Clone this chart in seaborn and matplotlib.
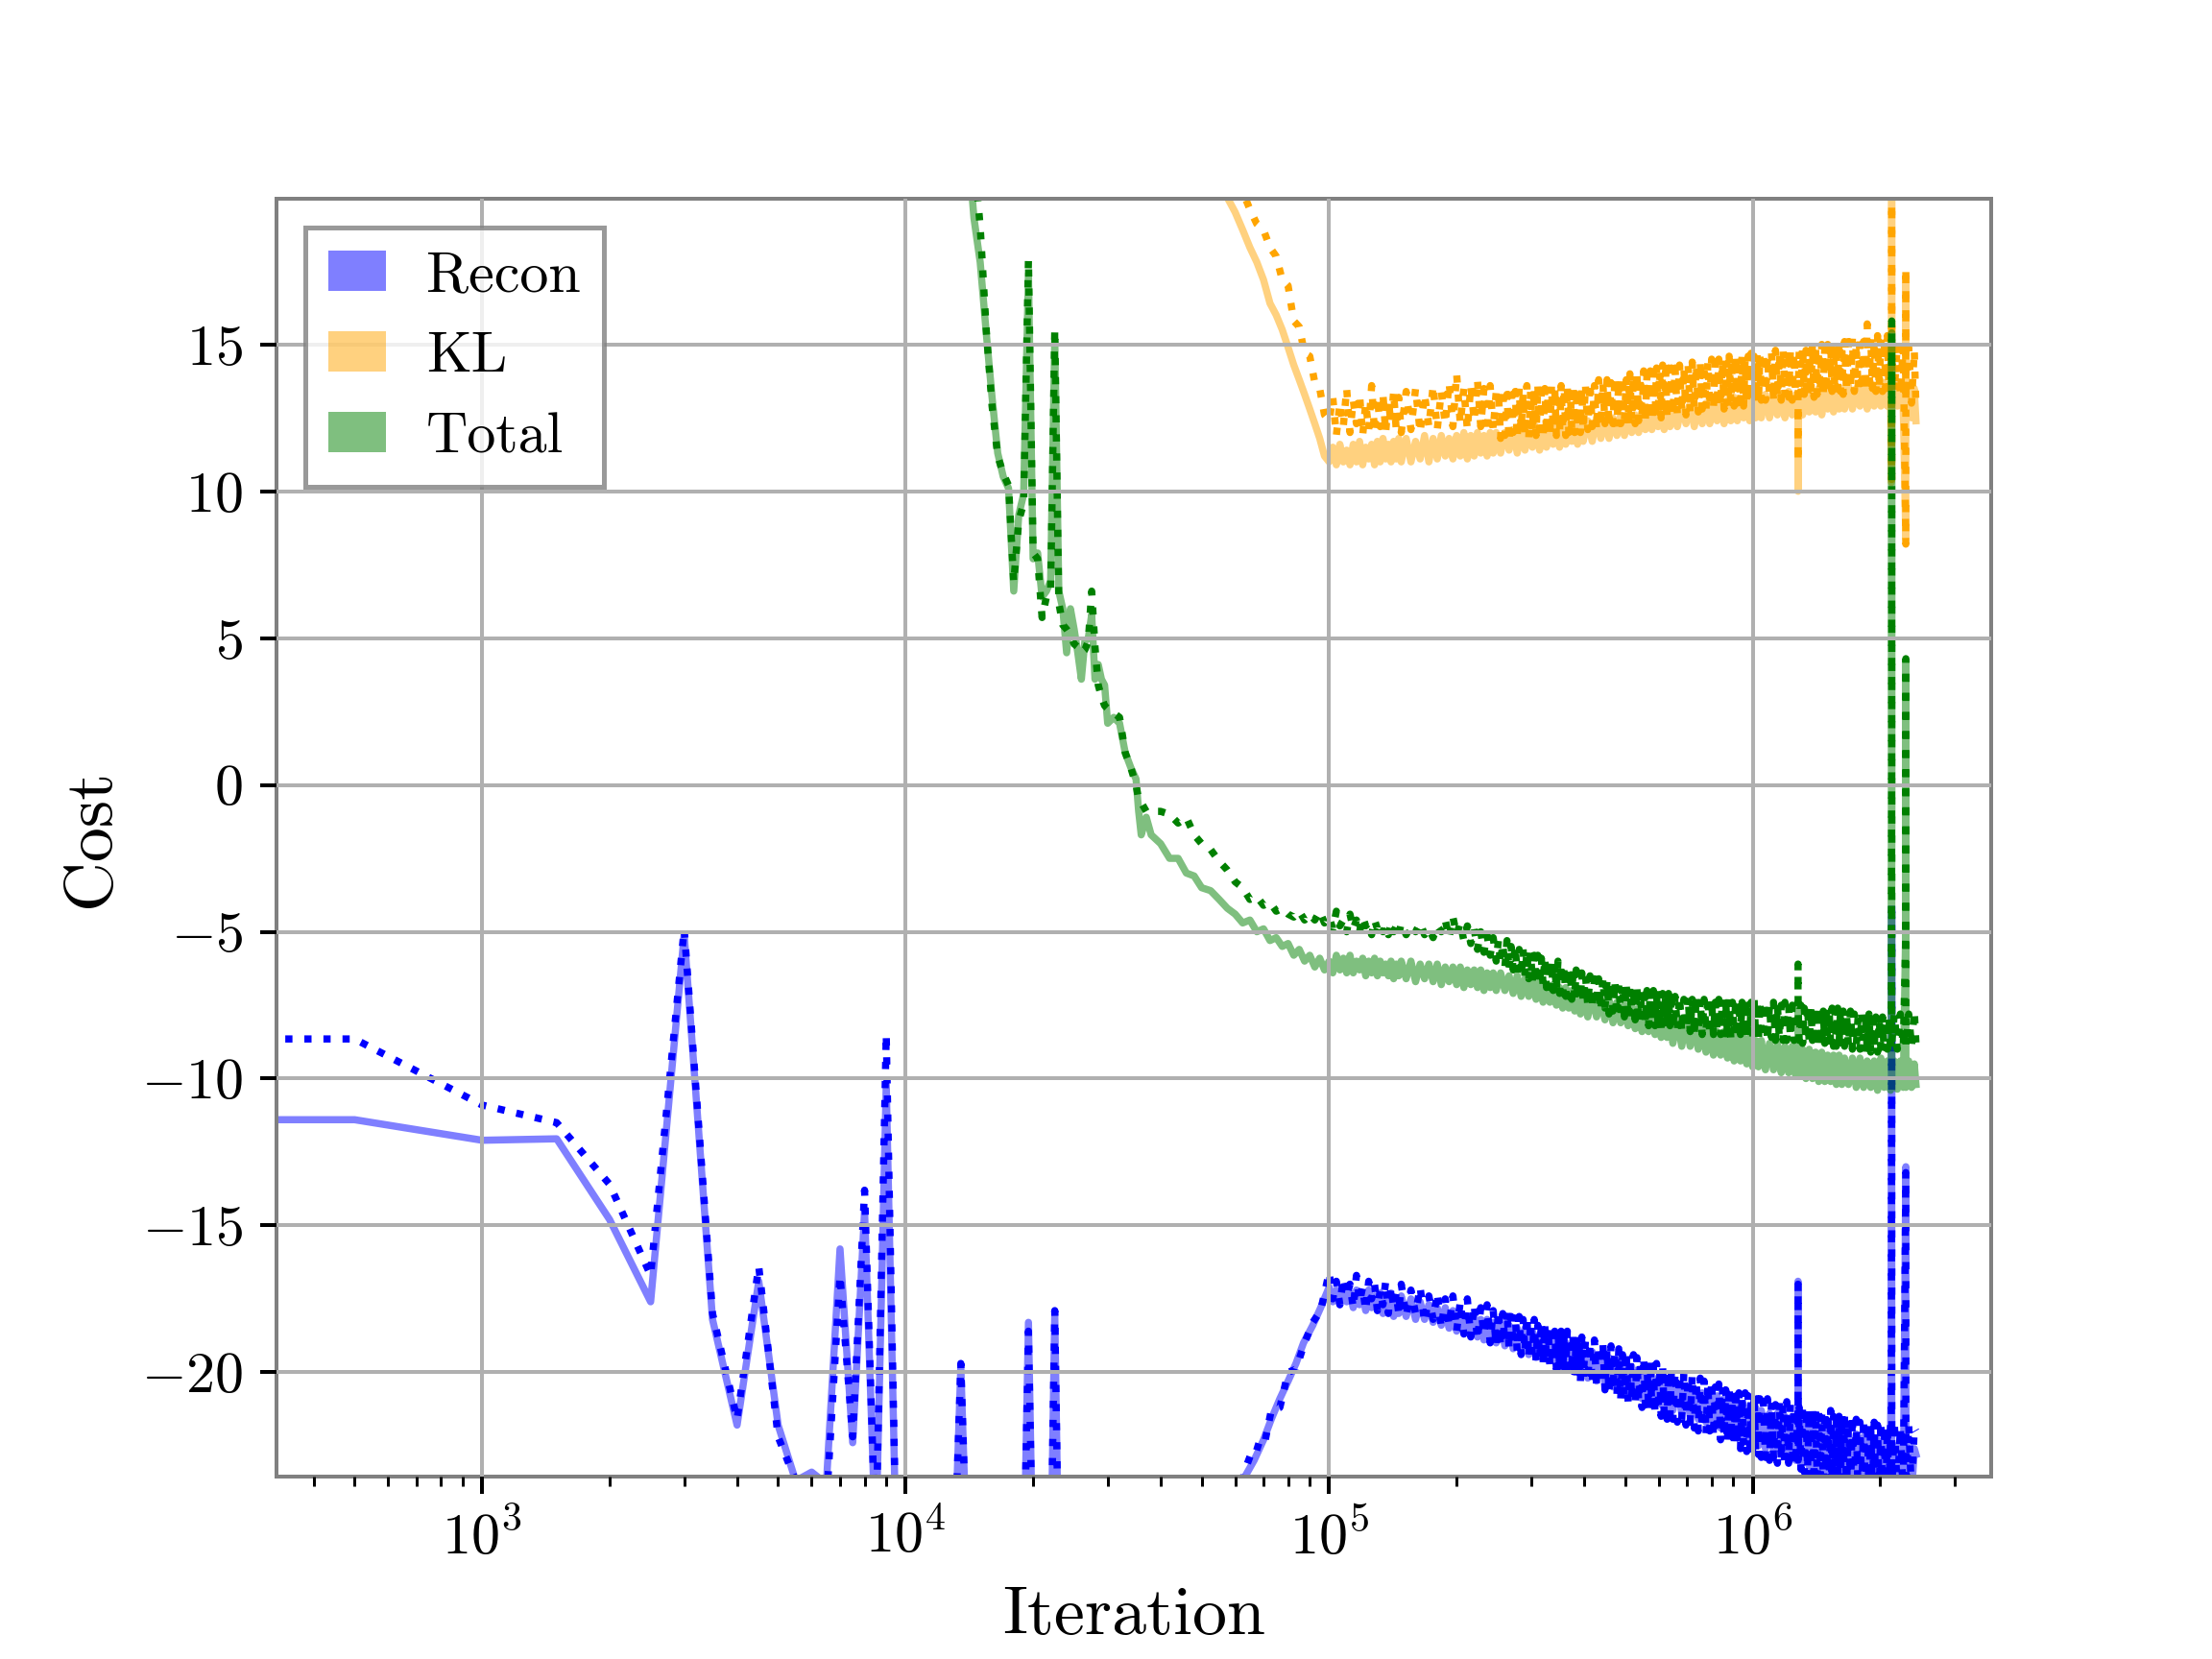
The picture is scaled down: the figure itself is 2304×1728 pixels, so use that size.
import matplotlib
matplotlib.use("Agg")
import matplotlib.pyplot as plt
import seaborn as sns
from matplotlib.patches import Patch

# ---------------- data ----------------
series_names = ["Recon", "KL", "Total"]
series_colors = ["blue", "orange", "green"]
y_ticks = [-20, -15, -10, -5, 0, 5, 10, 15]

# early iterations (recon only visible)
recon_iter_early = [0, 500, 1000, 1500, 2000, 2500, 3000, 3500, 4000, 4500,
                    5000, 5500, 6000, 6500, 7000, 7500, 8000, 8500, 9000, 9500,
                    10000, 13000, 13500, 14000, 19000, 19500, 20000, 22000, 22500, 23000,
                    60000, 63000, 66500, 70000, 73000, 76500, 80000, 83500, 87000, 91500,
                    95500]
recon_solid_early = [-11.4, -11.4, -12.1, -12.05, -14.8, -17.6, -5.1, -18.2, -21.8, -16.9,
                     -21.8, -23.7, -23.4, -23.8, -15.8, -22.4, -14.5, -26.0, -10.2, -26.0,
                     -27.0, -27.0, -19.8, -27.0, -27.0, -18.3, -27.0, -27.0, -18.0, -27.0,
                     -26.0, -23.6, -23.0, -22.3, -21.6, -20.9, -20.3, -19.7, -19.0, -18.4,
                     -17.8]
recon_dotted_early = [-8.65, -8.65, -10.9, -11.5, -13.6, -16.7, -4.9, -18.0, -21.6, -16.4,
                      -22.2, -23.7, -24.5, -24.5, -16.7, -22.2, -13.8, -26.0, -8.5, -26.0,
                      -27.0, -27.0, -19.7, -27.0, -27.0, -18.6, -27.0, -27.0, -17.9, -27.0,
                      -26.0, -23.4, -22.5, -22.6, -21.3, -21.2, -20.0, -19.9, -19.1, -18.3,
                      -17.9]

# total: mid iterations
total_iter_mid = [14000, 14500, 15000, 15500, 16000, 16500, 17000, 17500, 18000, 18500,
                  19000, 19500, 20000, 20500, 21000, 21500, 22000, 22500, 23000, 23500,
                  24000, 24500, 25000, 25500, 26000, 26500, 27000, 27500, 28000, 28500,
                  29000, 29500, 30000, 31000, 32000, 33000, 34000, 35000, 35500, 36000,
                  37000, 38000, 40000, 42000, 44000, 46000, 48000, 50000, 52500, 55000,
                  57500, 60000, 62500, 65000, 67500, 70000, 72500, 75000, 77500, 80000,
                  82500, 85000, 87500, 90000, 92500, 95000, 97500]
total_solid_mid = [22.0, 19.3, 17.8, 15.4, 13.2, 11.3, 10.5, 10.1, 6.6, 9.2,
                   9.9, 17.4, 7.7, 7.9, 6.4, 6.6, 6.95, 15.2, 6.6, 6.0,
                   4.5, 6.0, 5.3, 4.5, 3.6, 4.9, 5.0, 5.8, 3.6, 4.1,
                   3.6, 3.4, 2.1, 2.3, 2.1, 1.1, 0.6, 0.2, -0.9, -1.7,
                   -1.1, -1.7, -2.0, -2.5, -2.5, -3.0, -3.1, -3.5, -3.6, -3.9,
                   -4.2, -4.4, -4.7, -4.6, -5.0, -4.9, -5.3, -5.2, -5.5, -5.4,
                   -5.8, -5.6, -6.0, -5.8, -6.2, -5.9, -6.3]
total_dotted_mid = [24.0, 21.5, 19.0, 15.5, 12.9, 11.2, 10.6, 10.2, 6.9, 9.0,
                    9.6, 17.9, 7.9, 7.7, 5.7, 6.4, 6.6, 15.5, 6.2, 5.45,
                    5.3, 5.1, 4.8, 4.7, 4.5, 4.6, 4.9, 6.6, 4.7, 3.4,
                    3.0, 2.7, 2.6, 2.45, 2.3, 1.1, 0.6, 0.0, -0.5, -0.6,
                    -0.9, -0.9, -0.9, -1.0, -1.3, -1.1, -1.7, -2.0, -2.2, -2.6,
                    -2.9, -3.3, -3.5, -3.9, -3.8, -4.1, -4.0, -4.3, -4.2, -4.4,
                    -4.5, -4.3, -4.6, -4.4, -4.6, -4.3, -4.7]

# KL: mid iterations
kl_iter_mid = [55000, 57500, 60000, 62500, 65000, 67500, 70000, 72500, 75000, 77500,
               80000, 82500, 85000, 87500, 90000, 92500, 95000, 97500]
kl_solid_mid = [21.0, 20.0, 19.5, 18.9, 18.3, 17.8, 17.2, 16.4, 16.0, 15.5,
                14.9, 14.3, 13.8, 13.3, 12.8, 12.3, 11.8, 11.2]
kl_dotted_mid = [23.0, 22.0, 21.5, 20.2, 19.6, 19.1, 18.9, 18.3, 18.0, 17.2,
                 17.0, 15.8, 15.6, 14.7, 14.6, 13.7, 13.5, 12.6]

# ---- late iterations ----
# shared start (1e5 .. 2.5e5)
iter_late_a = [
    100000, 102000, 104000, 106000, 108000, 110000, 112000, 114000, 116000, 118000,
    120000, 122000, 124000, 126000, 128000, 130000, 132000, 134000, 136000, 138000,
    140000, 142000, 144000, 146000, 148000,
    152000, 156000, 160000, 164000, 168000, 172000, 176000, 180000, 184000, 188000,
    192000, 196000, 200000, 204000, 208000, 212000, 216000, 220000, 224000, 228000,
    232000, 236000, 240000, 244000, 248000]
# shared end (spikes near 2.1e6 - 2.43e6)
iter_late_c = [2125000, 2129500, 2130000, 2130500, 2160000, 2196000, 2232000, 2268000,
               2299500, 2300000, 2300500, 2336000, 2372000, 2408000, 2430000]
# solid curves, middle part
iter_solid_b = [
    254000, 260000, 266000, 272000, 278000, 284000, 290000, 296000, 302000, 308000,
    314000, 320000, 326000, 332000, 338000, 344000, 350000, 356000, 362000, 368000,
    374000, 380000, 386000, 392000, 398000,
    408000, 418000, 428000, 438000, 448000, 458000, 468000, 478000, 488000, 498000,
    508000, 518000, 528000, 538000, 548000, 558000, 568000, 578000, 588000, 598000,
    608000, 618000, 628000, 638000, 648000,
    664000, 680000, 696000, 712000, 728000, 744000, 760000, 776000, 792000, 808000,
    824000, 840000, 856000, 872000, 888000, 904000, 920000, 936000, 952000, 968000,
    984000, 1000000, 1016000, 1032000, 1048000,
    1072000, 1096000, 1120000, 1144000, 1168000, 1192000, 1216000, 1240000, 1264000,
    1279500, 1280000, 1280500,
    1288000, 1312000, 1336000, 1360000, 1384000, 1408000, 1432000, 1456000,
    1480000, 1504000, 1528000, 1552000, 1576000, 1600000, 1624000, 1648000,
    1684000, 1720000, 1756000, 1792000, 1828000, 1864000, 1900000, 1936000,
    1972000, 2008000, 2044000, 2080000, 2116000]
# dotted curves, middle part (denser sampling)
iter_dotted_b = [
    251000, 254000, 257000, 260000, 263000, 266000, 269000, 272000, 275000, 278000,
    281000, 284000, 287000, 290000, 293000, 296000, 299000, 302000, 305000, 308000,
    311000, 314000, 317000, 320000, 323000, 326000, 329000, 332000, 335000, 338000,
    341000, 344000, 347000, 350000, 353000, 356000, 359000, 362000, 365000, 368000,
    371000, 374000, 377000, 380000, 383000, 386000, 389000, 392000, 395000, 398000,
    403000, 408000, 413000, 418000, 423000, 428000, 433000, 438000, 443000, 448000,
    453000, 458000, 463000, 468000, 473000, 478000, 483000, 488000, 493000, 498000,
    503000, 508000, 513000, 518000, 523000, 528000, 533000, 538000, 543000, 548000,
    553000, 558000, 563000, 568000, 573000, 578000, 583000, 588000, 593000, 598000,
    603000, 608000, 613000, 618000, 623000, 628000, 633000, 638000, 643000, 648000,
    656000, 664000, 672000, 680000, 688000, 696000, 704000, 712000, 720000, 728000,
    736000, 744000, 752000, 760000, 768000, 776000, 784000, 792000, 800000, 808000,
    816000, 824000, 832000, 840000, 848000, 856000, 864000, 872000, 880000, 888000,
    896000, 904000, 912000, 920000, 928000, 936000, 944000, 952000, 960000, 968000,
    976000, 984000, 992000, 1000000, 1008000, 1016000, 1024000, 1032000, 1040000, 1048000,
    1060000, 1072000, 1084000, 1096000, 1108000, 1120000, 1132000, 1144000, 1156000,
    1168000, 1180000, 1192000, 1204000, 1216000, 1228000, 1240000, 1252000, 1264000,
    1279500, 1280000, 1280500,
    1288000, 1300000, 1312000, 1324000, 1336000, 1348000, 1360000, 1372000, 1384000,
    1396000, 1408000, 1420000, 1432000, 1444000, 1456000, 1468000, 1480000, 1492000,
    1504000, 1516000, 1528000, 1540000, 1552000, 1564000, 1576000, 1588000, 1600000,
    1612000, 1624000, 1636000, 1648000,
    1666000, 1684000, 1702000, 1720000, 1738000, 1756000, 1774000, 1792000, 1810000,
    1828000, 1846000, 1864000, 1882000, 1900000, 1918000, 1936000, 1954000, 1972000,
    1990000, 2008000, 2026000, 2044000, 2062000, 2080000, 2098000, 2116000]

# ----- recon -----
recon_dotted_a = [
    -16.6, -17.5, -16.9, -17.7, -16.8, -17.4, -17.0, -17.8, -16.7, -17.6, -17.1, -17.9, -16.9,
    -17.5, -17.0, -17.9, -17.2, -17.7, -16.9, -18.0, -17.1, -17.8, -17.3, -18.0, -17.0,
    -18.1, -17.2, -18.0, -17.1, -18.3, -17.4, -18.2, -17.3, -18.5, -17.5, -18.4, -17.4, -18.6,
    -17.6, -18.7, -17.5, -18.8, -17.7, -18.9, -17.8, -18.7, -17.7, -19.0, -17.9, -19.1]
recon_dotted_b = [
    -17.9, -19.1, -18.0, -19.0, -17.9, -19.2, -18.1, -19.1, -18.0, -19.3,
    -18.1, -19.4, -18.2, -19.3, -18.1, -19.5, -18.3, -19.4, -18.2, -19.6,
    -18.4, -19.5, -18.3, -19.7, -18.4, -19.6, -18.5, -19.8, -18.4, -19.7,
    -18.6, -19.9, -18.5, -19.8, -18.6, -20.0, -18.7, -19.9, -18.6, -20.1,
    -18.8, -20.0, -18.7, -20.2, -18.8, -20.1, -18.9, -20.3, -18.8, -20.2,
    -18.9, -20.3, -19.0, -20.4, -18.9, -20.5, -19.1, -20.4, -19.0, -20.6,
    -19.2, -20.7, -19.1, -20.6, -19.3, -20.8, -19.2, -20.9, -19.4, -20.8,
    -19.3, -21.0, -19.5, -20.9, -19.4, -21.1, -19.5, -21.0, -19.6, -21.2,
    -19.5, -21.1, -19.7, -21.3, -19.6, -21.2, -19.8, -21.4, -19.7, -21.3,
    -19.9, -21.5, -19.8, -21.4, -19.9, -21.6, -20.0, -21.5, -19.9, -21.6,
    -20.0, -21.7, -20.1, -21.6, -20.0, -21.8, -20.2, -21.7, -20.1, -21.9,
    -20.3, -22.0, -20.2, -21.9, -20.3, -22.1, -20.4, -22.0, -20.3, -22.2,
    -20.5, -22.1, -20.4, -22.3, -20.5, -22.2, -20.6, -22.4, -20.5, -22.3,
    -20.7, -22.5, -20.6, -22.4, -20.7, -22.6, -20.8, -22.5, -20.7, -22.7,
    -20.8, -22.6, -20.9, -22.8, -20.8, -22.7, -20.9, -22.8, -20.9, -22.9,
    -21.0, -22.9, -20.9, -23.0, -21.0, -22.9, -21.1, -23.1, -21.0,
    -23.0, -21.1, -23.2, -21.0, -23.1, -21.1, -23.2, -21.2, -23.1,
    -21.2, -17.0, -23.0,
    -21.2, -23.3, -21.1, -23.4, -21.2, -23.3, -21.3, -23.5, -21.2,
    -23.4, -21.3, -23.6, -21.2, -23.5, -21.4, -23.7, -21.3, -23.6,
    -21.4, -23.8, -21.3, -23.7, -21.5, -23.9, -21.4, -23.8, -21.5,
    -24.0, -21.4, -23.9, -21.5,
    -24.0, -21.6, -24.1, -21.5, -24.0, -21.6, -24.2, -21.7, -24.1,
    -21.6, -24.2, -21.7, -24.1, -21.8, -24.2, -21.7, -24.3, -21.8,
    -24.2, -21.7, -24.3, -21.8, -24.2, -21.9, -24.3, -21.8]
recon_dotted_c = [-21.8, -10.0, -4.0, -24.2, -21.7, -24.1, -21.9, -24.2,
                  -13.2, -13.3, -24.2, -21.8, -24.1, -21.9, -22.0]

recon_solid_a = [
    -17.1, -17.6, -17.2, -17.7, -17.1, -17.6, -17.3, -17.8, -17.2, -17.7, -17.3, -17.9, -17.2,
    -17.8, -17.4, -17.9, -17.3, -18.0, -17.4, -17.9, -17.3, -18.1, -17.5, -18.0, -17.4,
    -18.1, -17.5, -18.2, -17.6, -18.2, -17.7, -18.3, -17.8, -18.4, -17.8, -18.5, -17.9, -18.6,
    -18.0, -18.6, -18.1, -18.7, -18.1, -18.8, -18.2, -18.9, -18.2, -18.9, -18.3, -19.0]
recon_solid_b = [
    -18.3, -19.1, -18.4, -19.2, -18.5, -19.3, -18.5, -19.4, -18.6, -19.5, -18.7, -19.5, -18.8,
    -19.6, -18.9, -19.7, -18.9, -19.8, -19.0, -19.9, -19.1, -20.0, -19.2, -20.1, -19.3,
    -20.2, -19.3, -20.3, -19.4, -20.4, -19.5, -20.5, -19.6, -20.6, -19.7, -20.7, -19.8, -20.8,
    -19.9, -20.9, -20.0, -21.0, -20.1, -21.0, -20.2, -21.1, -20.3, -21.2, -20.3, -21.3,
    -20.4, -21.4, -20.5, -21.5, -20.6, -21.6, -20.7, -21.7, -20.7, -21.8, -20.8, -21.9, -20.9,
    -22.0, -21.0, -22.1, -21.0, -22.2, -21.1, -22.3, -21.2, -22.4, -21.2, -22.5, -21.3,
    -22.6, -21.4, -22.7, -21.4, -22.8, -21.5, -22.9, -21.5, -23.0,
    -21.6, -16.9, -22.9,
    -21.6, -23.1, -21.7, -23.2, -21.7, -23.3, -21.8, -23.4,
    -21.9, -23.5, -21.9, -23.6, -22.0, -23.7, -22.0, -23.8,
    -22.1, -23.9, -22.1, -24.0, -22.2, -24.1, -22.2, -24.1, -22.3, -24.2, -22.3, -24.2, -22.4]
recon_solid_c = [-19.1, -11.0, -4.5, -24.2, -22.5, -24.2, -22.5, -24.2,
                 -13.0, -13.0, -24.2, -22.6, -24.2, -22.6, -22.8]

# ----- KL -----
kl_dotted_a = [
    12.4, 13.2, 11.9, 13.0, 12.2, 13.5, 12.0, 13.1, 12.3, 13.3, 11.9, 13.0, 12.1,
    13.6, 12.0, 13.2, 12.2, 13.3, 12.0, 13.1, 12.3, 13.4, 12.1, 13.2, 12.0,
    13.4, 12.1, 13.5, 12.0, 13.3, 12.2, 13.6, 12.1, 13.4, 12.3, 13.7, 12.2, 14.0,
    12.3, 13.5, 12.1, 13.6, 12.4, 13.8, 12.2, 13.5, 12.0, 13.6, 12.1, 13.4]
kl_dotted_b = [
    13.4, 11.8, 13.5, 11.9, 13.3, 11.7, 13.6, 12.0, 13.4, 11.8,
    13.5, 12.1, 13.3, 11.9, 13.6, 11.8, 13.4, 12.0, 13.5, 11.9,
    13.6, 12.1, 13.4, 11.8, 13.5, 12.0, 13.3, 11.9, 13.6, 12.1,
    13.5, 11.9, 13.4, 12.0, 13.6, 12.1, 13.5, 11.9, 13.6, 12.0,
    13.4, 12.1, 13.6, 12.0, 13.5, 12.2, 13.6, 12.0, 13.5, 12.1,
    13.6, 12.1, 13.7, 12.2, 13.6, 12.1, 13.8, 12.2, 13.7, 12.3,
    13.8, 12.2, 13.7, 12.3, 13.9, 12.2, 13.8, 12.3, 13.9, 12.4,
    13.8, 12.3, 14.0, 12.4, 13.9, 12.3, 14.0, 12.4, 13.9, 12.5,
    14.1, 12.4, 14.0, 12.5, 14.1, 12.4, 14.0, 12.5, 14.2, 12.6,
    14.1, 12.5, 14.3, 12.6, 14.1, 12.5, 14.2, 12.6, 14.2, 12.6,
    14.2, 12.6, 14.3, 12.7, 14.2, 12.6, 14.3, 12.7, 14.4, 12.8,
    14.3, 12.7, 14.4, 12.8, 14.3, 12.8, 14.4, 12.9, 14.5, 12.8,
    14.4, 12.9, 14.5, 12.9, 14.4, 12.8, 14.5, 12.9, 14.6, 13.0,
    14.5, 12.9, 14.6, 13.0, 14.5, 13.0, 14.6, 12.9, 14.5, 13.0,
    14.6, 13.1, 14.7, 13.0, 14.6, 13.1, 14.7, 13.0, 14.6, 13.1,
    14.7, 13.1, 14.6, 13.2, 14.7, 13.1, 14.8, 13.2, 14.7,
    13.1, 14.8, 13.2, 14.7, 13.2, 14.8, 13.1, 14.7, 13.2,
    13.3, 11.0, 13.2,
    14.8, 13.2, 14.9, 13.3, 14.8, 13.2, 14.9, 13.3, 15.0,
    13.2, 14.9, 13.3, 14.8, 13.4, 15.0, 13.3, 14.9, 13.4,
    15.0, 13.3, 15.1, 13.4, 14.9, 13.3, 15.0, 13.4, 15.1,
    13.4, 15.0, 13.3, 15.1,
    13.4, 15.1, 13.5, 15.2, 13.4, 15.0, 13.5, 15.3, 13.4,
    15.1, 13.5, 15.7, 13.4, 15.2, 13.5, 15.1, 13.4, 15.3,
    13.5, 15.2, 13.4, 15.1, 13.5, 15.3, 13.4, 15.2]
kl_dotted_c = [13.6, 10.4, 25.0, 14.6, 13.4, 15.0, 13.3, 14.9,
               8.2, 17.6, 13.2, 14.9, 13.0, 14.8, 12.9]

kl_solid_a = [
    11.0, 11.5, 10.9, 11.6, 11.0, 11.4, 10.9, 11.6, 11.0, 11.7, 10.9, 11.5, 11.1,
    11.6, 10.9, 11.7, 11.0, 11.8, 11.1, 11.6, 11.0, 11.7, 11.1, 11.8, 11.0,
    11.8, 11.0, 11.7, 11.1, 11.9, 11.0, 11.8, 11.1, 11.9, 11.2, 11.8, 11.1, 11.9,
    11.2, 12.0, 11.1, 11.9, 11.2, 12.0, 11.3, 11.9, 11.2, 12.0, 11.3, 12.0]
kl_solid_b = [
    11.3, 12.0, 11.4, 12.1, 11.3, 12.0, 11.4, 12.1, 11.5, 12.2, 11.4, 12.1, 11.5,
    12.2, 11.6, 12.3, 11.5, 12.2, 11.6, 12.3, 11.7, 12.4, 11.6, 12.3, 11.7,
    12.4, 11.7, 12.5, 11.8, 12.4, 11.8, 12.5, 11.9, 12.6, 11.9, 12.5, 12.0, 12.6,
    12.0, 12.7, 12.1, 12.6, 12.1, 12.7, 12.2, 12.8, 12.1, 12.8, 12.2, 12.9,
    12.2, 12.9, 12.3, 13.0, 12.2, 12.9, 12.3, 13.0, 12.3, 13.1, 12.4, 13.0, 12.3,
    13.1, 12.4, 13.2, 12.4, 13.1, 12.5, 13.2, 12.4, 13.3, 12.5, 13.2, 12.5,
    13.3, 12.5, 13.2, 12.6, 13.3, 12.5, 13.4, 12.6, 13.3,
    12.6, 10.0, 12.7,
    13.3, 12.6, 13.4, 12.7, 13.3, 12.7, 13.5, 12.6,
    13.4, 12.8, 13.5, 12.7, 13.4, 12.8, 13.5, 12.8,
    13.6, 12.8, 13.5, 12.9, 13.6, 12.8, 13.7, 12.9, 13.6, 12.9, 13.7, 12.9, 13.6]
kl_solid_c = [10.3, 10.5, 26.0, 13.0, 13.7, 12.9, 13.6, 12.8,
              8.4, 17.3, 12.8, 13.6, 12.5, 13.5, 12.4]

# ----- Total -----
total_dotted_a = [
    -4.5, -4.9, -4.3, -4.8, -4.6, -5.0, -4.4, -4.9, -4.6, -5.0, -4.5, -4.8, -4.7,
    -5.1, -4.6, -4.9, -4.7, -5.0, -4.8, -5.1, -4.7, -5.0, -4.8, -5.1, -4.7,
    -5.1, -4.8, -5.0, -4.7, -5.1, -4.9, -5.2, -4.8, -5.0, -4.6, -5.2, -4.5, -5.1,
    -4.7, -5.3, -4.8, -5.4, -4.9, -5.6, -5.0, -5.7, -5.1, -5.8, -5.2, -6.0]
total_dotted_b = [
    -5.3, -6.1, -5.4, -6.2, -5.3, -6.3, -5.5, -6.3, -5.5, -6.4,
    -5.6, -6.5, -5.6, -6.5, -5.7, -6.6, -5.7, -6.7, -5.8, -6.7,
    -5.8, -6.8, -5.9, -6.8, -5.9, -6.9, -6.0, -6.9, -6.0, -7.0,
    -6.1, -7.0, -6.0, -7.1, -6.1, -7.1, -6.2, -7.2, -6.2, -7.2,
    -6.3, -7.3, -6.2, -7.3, -6.3, -7.4, -6.4, -7.3, -6.4, -7.4,
    -6.5, -7.5, -6.5, -7.6, -6.6, -7.5, -6.6, -7.7, -6.6, -7.6,
    -6.7, -7.8, -6.7, -7.7, -6.7, -7.9, -6.8, -7.8, -6.8, -7.9,
    -6.8, -8.0, -6.9, -7.9, -6.9, -8.0, -6.9, -8.1, -7.0, -8.0,
    -6.9, -8.1, -7.0, -8.2, -7.0, -8.1, -7.0, -8.2, -7.1, -8.2,
    -7.0, -8.3, -7.1, -8.2, -7.1, -8.3, -7.1, -8.2, -7.1, -8.3,
    -7.2, -8.3, -7.2, -8.4, -7.3, -8.3, -7.2, -8.4, -7.3, -8.5,
    -7.2, -8.4, -7.3, -8.5, -7.3, -8.4, -7.2, -8.5, -7.3, -8.5,
    -7.4, -8.4, -7.3, -8.5, -7.3, -8.6, -7.4, -8.5, -7.3, -8.6,
    -7.4, -8.5, -7.3, -8.6, -7.4, -8.5, -7.4, -8.6, -7.3, -8.6,
    -7.4, -8.5, -7.4, -8.6, -7.3, -8.6, -7.4, -8.7, -7.4, -8.6,
    -8.6, -7.4, -8.7, -7.5, -8.6, -7.4, -8.7, -7.5, -8.6,
    -7.5, -8.7, -7.4, -8.7, -7.5, -8.6, -7.5, -8.7, -7.5,
    -7.5, -6.1, -7.6,
    -8.7, -7.5, -8.8, -7.6, -8.7, -7.5, -8.8, -7.6, -8.7,
    -7.6, -8.8, -7.5, -8.9, -7.6, -8.8, -7.7, -8.8, -7.6,
    -8.9, -7.7, -8.8, -7.6, -8.9, -7.7, -8.9, -7.6, -8.8,
    -7.7, -8.9, -7.7, -8.9,
    -7.8, -8.9, -7.7, -9.0, -7.8, -8.9, -7.9, -9.0, -7.8,
    -9.1, -7.9, -9.0, -7.8, -9.1, -8.0, -9.0, -7.9, -9.1,
    -8.0, -9.0, -7.9, -9.1, -8.0, -9.0, -7.9, -9.1]
total_dotted_c = [-7.9, 0.4, 15.8, -8.8, -7.8, -9.0, -7.8, -8.9,
                  -5.0, 4.3, -8.9, -7.8, -8.9, -7.7, -8.8]

total_solid_a = [
    -6.0, -6.4, -5.8, -6.3, -5.9, -6.4, -5.8, -6.4, -6.0, -6.3, -5.9, -6.5, -6.0,
    -6.4, -5.9, -6.5, -6.0, -6.4, -6.1, -6.5, -6.0, -6.6, -6.1, -6.5, -6.0,
    -6.6, -6.0, -6.7, -6.1, -6.6, -6.1, -6.7, -6.1, -6.8, -6.2, -6.7, -6.2, -6.8,
    -6.2, -6.9, -6.3, -6.8, -6.3, -6.9, -6.3, -7.0, -6.4, -6.9, -6.4, -7.0]
total_solid_b = [
    -6.4, -7.0, -6.5, -7.1, -6.5, -7.2, -6.6, -7.2, -6.7, -7.3, -6.7, -7.4, -6.8,
    -7.4, -6.8, -7.5, -6.9, -7.6, -6.9, -7.6, -7.0, -7.7, -7.0, -7.8, -7.1,
    -7.9, -7.2, -7.9, -7.3, -8.0, -7.3, -8.1, -7.4, -8.1, -7.5, -8.2, -7.5, -8.3,
    -7.6, -8.4, -7.7, -8.4, -7.7, -8.5, -7.8, -8.6, -7.9, -8.6, -7.9, -8.8,
    -8.0, -8.9, -8.1, -8.9, -8.2, -9.0, -8.2, -9.1, -8.3, -9.2, -8.4, -9.2, -8.4,
    -9.3, -8.5, -9.4, -8.5, -9.4, -8.6, -9.5, -8.6, -9.6, -8.7, -9.6, -8.7,
    -9.7, -8.8, -9.7, -8.8, -9.8, -8.9, -9.8, -8.9, -9.9,
    -9.0, -7.6, -9.0,
    -9.9, -9.0, -10.0, -9.0, -10.0, -9.1, -10.1, -9.1,
    -10.1, -9.2, -10.1, -9.2, -10.2, -9.2, -10.2, -9.3,
    -10.2, -9.3, -10.3, -9.3, -10.3, -9.4, -10.3, -9.4, -10.4, -9.3, -10.3, -9.4, -10.4]
total_solid_c = [-8.6, -0.7, 15.4, -10.3, -9.4, -10.36, -9.4, -10.3,
                 -4.6, 4.2, -10.3, -9.4, -10.3, -9.5, -10.2]

# ---------------- assemble ----------------
for arr in [recon_dotted_a, recon_solid_a, kl_dotted_a, kl_solid_a, total_dotted_a, total_solid_a]:
    assert len(arr) == len(iter_late_a), len(arr)
for arr in [recon_solid_b, kl_solid_b, total_solid_b]:
    assert len(arr) == len(iter_solid_b), (len(arr), len(iter_solid_b))
for arr in [recon_dotted_b, kl_dotted_b, total_dotted_b]:
    assert len(arr) == len(iter_dotted_b), (len(arr), len(iter_dotted_b))
for arr in [recon_dotted_c, recon_solid_c, kl_dotted_c, kl_solid_c, total_dotted_c, total_solid_c]:
    assert len(arr) == len(iter_late_c), len(arr)
assert len(recon_solid_early) == len(recon_iter_early) == len(recon_dotted_early)
assert len(total_solid_mid) == len(total_iter_mid) == len(total_dotted_mid)
assert len(kl_solid_mid) == len(kl_iter_mid) == len(kl_dotted_mid)

solid_late_x = iter_late_a + iter_solid_b + iter_late_c
dotted_late_x = iter_late_a + iter_dotted_b + iter_late_c

curves = [
    # (solid x, solid y, dotted x, dotted y)
    (recon_iter_early + solid_late_x, recon_solid_early + recon_solid_a + recon_solid_b + recon_solid_c,
     recon_iter_early + dotted_late_x, recon_dotted_early + recon_dotted_a + recon_dotted_b + recon_dotted_c),
    (kl_iter_mid + solid_late_x, kl_solid_mid + kl_solid_a + kl_solid_b + kl_solid_c,
     kl_iter_mid + dotted_late_x, kl_dotted_mid + kl_dotted_a + kl_dotted_b + kl_dotted_c),
    (total_iter_mid + solid_late_x, total_solid_mid + total_solid_a + total_solid_b + total_solid_c,
     total_iter_mid + dotted_late_x, total_dotted_mid + total_dotted_a + total_dotted_b + total_dotted_c),
]

# ---------------- style ----------------
plt.rcParams.update({
    "font.family": "cmr10",
    "mathtext.fontset": "cm",
    "axes.formatter.use_mathtext": True,
    "axes.unicode_minus": True,
    "font.size": 12,
    "axes.edgecolor": "grey",
    "axes.linewidth": 0.8,
    "axes.axisbelow": False,
})

fig, ax = plt.subplots(figsize=(6.4, 4.8), dpi=360)

for (xs, ys, xd, yd), col in zip(curves, series_colors):
    sns.lineplot(x=xs, y=ys, ax=ax, color=col, alpha=0.5, linewidth=1.5,
                 estimator=None, sort=False, legend=False)
    sns.lineplot(x=xd, y=yd, ax=ax, color=col, linewidth=1.5, linestyle=":",
                 estimator=None, sort=False, legend=False)

ax.set_xscale("log")
ax.set_xlim(327, 3.65e6)
ax.set_ylim(-23.55, 19.95)
ax.set_yticks(y_ticks)
ax.grid(True, which="major", color="#b0b0b0", linewidth=0.8)
ax.set_xlabel("Iteration", fontsize=14.4)
ax.set_ylabel("Cost", fontsize=14.4)

handles = [Patch(facecolor=c, alpha=0.5) for c in series_colors]
ax.legend(handles, series_names, loc="upper left", fancybox=False,
          edgecolor="grey", handlelength=1.0, handletextpad=0.7)

fig.savefig("out.png", dpi=360)
